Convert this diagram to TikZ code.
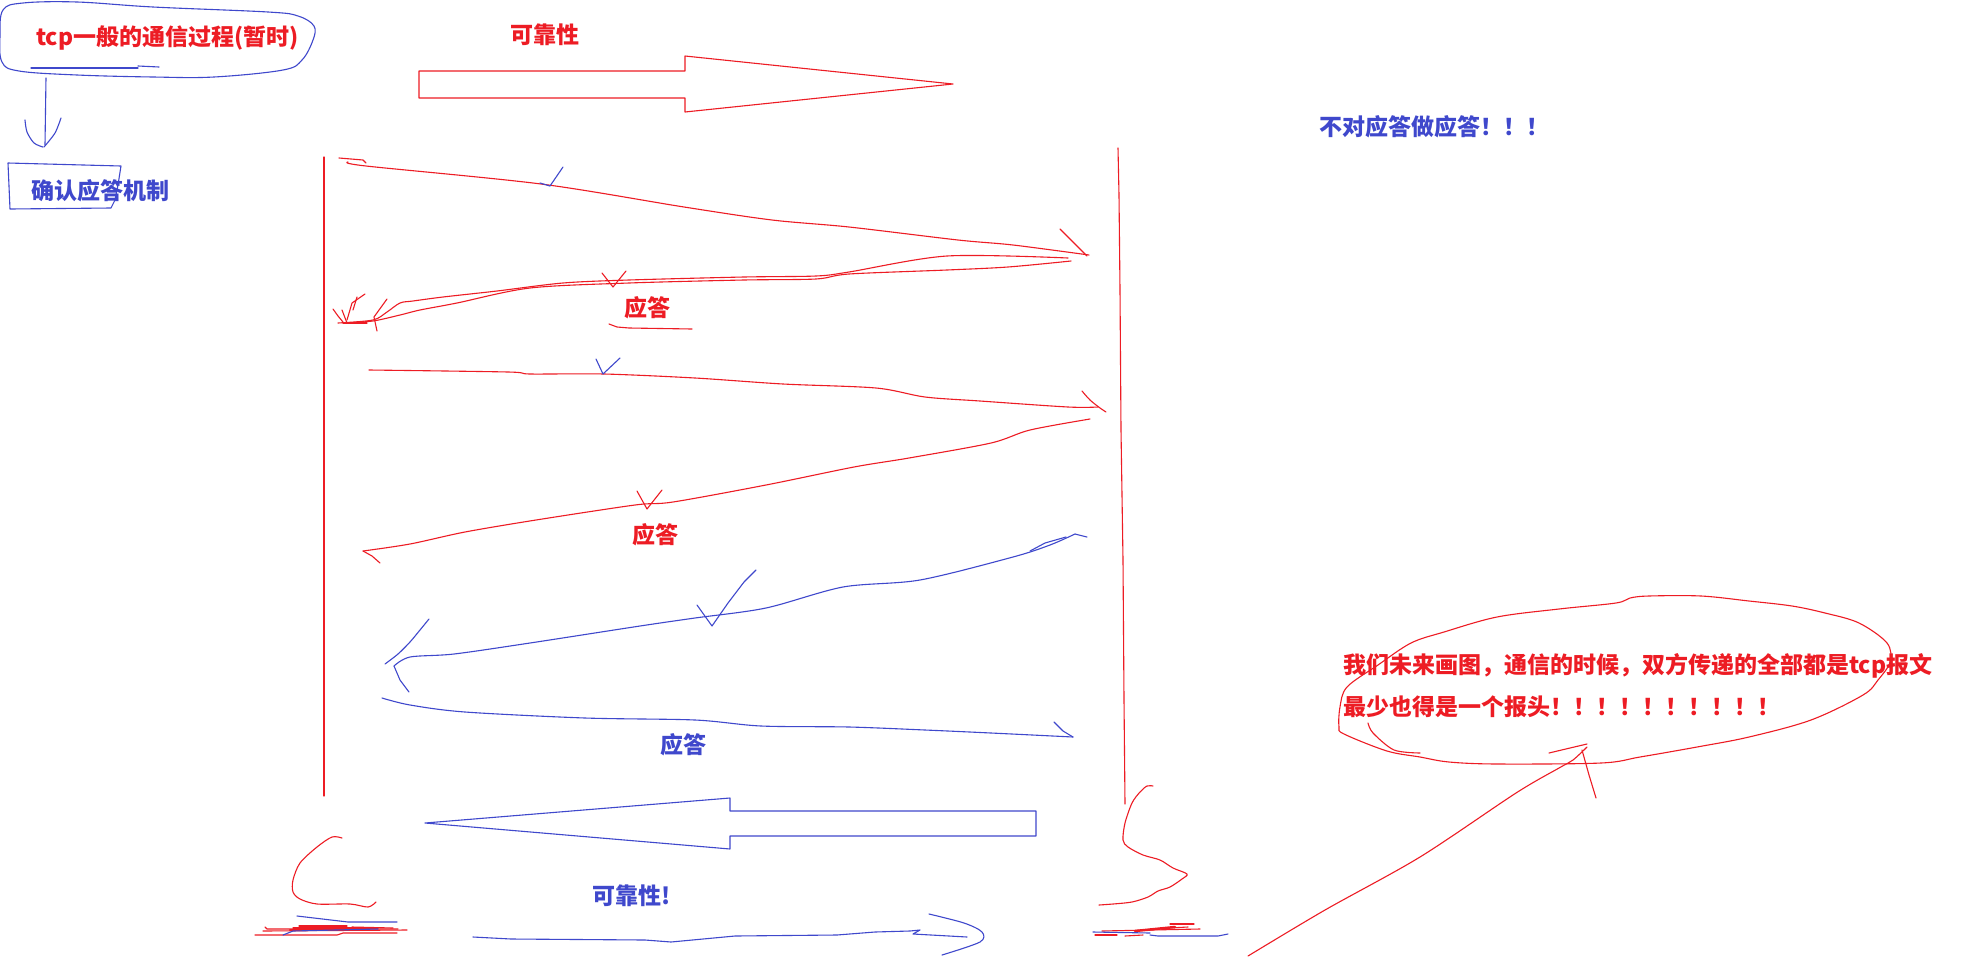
\documentclass[tikz,border=0pt]{standalone}
\usepackage{fontspec}
\newfontfamily\cjk{Noto Sans CJK SC}
\definecolor{pred}{HTML}{ED1C24}
\definecolor{pblue}{HTML}{3F48CC}
\tikzset{
  rs/.style={draw=pred, line width=1.1pt, line cap=round, line join=round},
  bs/.style={draw=pblue, line width=1.1pt, line cap=round, line join=round},
  txt/.style={font=\cjk\bfseries\fontsize{23}{27}\selectfont, inner sep=0pt},
}
\begin{document}
\begin{tikzpicture}[x=1pt,y=-1pt]
\fill[white] (0,0) rectangle (1976,956);
\useasboundingbox (0,0) rectangle (1976,956);

% ---- title ellipse and text
\draw[bs] plot[smooth cycle, tension=0.6] coordinates {(3,10) (23,3) (77,2) (153,7) (268,12) (298,16) (314,26) (313,40) (302,60) (283,70) (214,77) (153,77) (77,75) (19,71) (2,62) (0,36)};
\draw[bs] (31,68) -- (138,68);
\draw[bs] (138,66) -- (159,67);
\node[txt, text=pred, anchor=west] (title) at (36,38) {tcp一般的通信过程(暂时)};

% ---- down arrow to box
\draw[bs] (46,78) -- (45,145);
\draw[bs] plot[smooth] coordinates {(25,120) (27,132) (34,143) (43,147)};
\draw[bs] plot[smooth] coordinates {(44,147) (55,133) (61,118)};

% ---- box and text
\draw[bs] (8,163) -- (121,166) -- (118,185) -- (115,200) -- (111,208) -- (10,209) -- cycle;
\node[txt, text=pblue, anchor=west] (ack) at (31,191) {确认应答机制};

% ---- top reliability label and outline arrow
\node[txt, text=pred] (rel1) at (545,35) {可靠性};
\draw[rs] (419,71) -- (685,71) -- (685,56) -- (953,84) -- (685,112) -- (685,98) -- (419,98) -- cycle;

\node[txt, text=pblue, anchor=west] (noack) at (1319,127) {不对应答做应答！！！};

% ---- vertical lines
\draw[rs] (324,157) -- (324,796);
\draw[rs] (1118,148) -- (1119,195) -- (1120,290) -- (1121,430) -- (1123,560) -- (1124,700) -- (1125,804);

% ---- arrow 1 (red, right)
\draw[rs] (339,158) -- (363,160) -- (366,163);
\draw[rs] plot[smooth] coordinates {(348,162) (366,166) (541,184) (684,207) (772,220) (849,227) (958,240) (1013,245) (1089,255)};
\draw[rs] plot[smooth] coordinates {(1060,229) (1072,241) (1081,250) (1087,256)};
\draw[bs] (540,183) -- (550,186) -- (563,167);

% ---- return 1 (red, left, double)
\draw[rs] plot[smooth] coordinates {(1068,258) (947,256) (849,272) (816,276) (744,277) (629,280) (563,283) (497,291) (443,297) (413,301) (400,303) (387,312) (373,320) (338,323)};
\draw[rs] plot[smooth] coordinates {(1071,261) (1008,267) (947,270) (849,274) (816,279) (744,280) (629,283) (530,288) (457,303) (420,310) (400,315) (373,321) (345,323)};
\draw[rs] (333,309) -- (338,316) -- (343,322);
\draw[rs] (342,310) -- (347,323);
\draw[rs] (365,294) -- (352,303) -- (347,320);
\draw[rs] (357,297) -- (353,310);
\draw[rs] (387,299) -- (374,317) -- (377,331);
\draw[rs] (343,323) -- (367,323);
\draw[rs] (602,273) -- (613,287) -- (626,271);
\node[txt, text=pred] (ans1) at (647,308) {应答};
\draw[rs] (609,324) -- (617,327) -- (629,328) -- (692,329);

% ---- arrow 2 (red, right)
\draw[rs] plot[smooth] coordinates {(369,370) (508,372) (530,374) (604,374) (695,378) (783,384) (876,388) (925,397) (980,401) (1068,407) (1098,407)};
\draw[rs] plot[smooth] coordinates {(1082,391) (1090,400) (1100,408) (1106,412)};
\draw[bs] (596,359) -- (603,374) -- (620,358);

% ---- return 2 (red, left)
\draw[rs] plot[smooth] coordinates {(1090,419) (1030,430) (991,443) (909,458) (854,467) (766,485) (673,502) (635,505) (536,520) (465,532) (410,544) (363,551)};
\draw[rs] (363,551) -- (372,556) -- (380,563);
\draw[rs] (637,491) -- (647,509) -- (662,490);
\node[txt, text=pred] (ans2) at (655,535) {应答};

% ---- return 3 (blue, left)
\draw[bs] (1087,537) -- (1075,534);
\draw[bs] (1030,551) -- (1045,543) -- (1066,537);
\draw[bs] plot[smooth] coordinates {(1075,534) (1050,545) (1013,557) (920,580) (843,587) (766,608) (695,618) (640,626) (530,643) (454,654) (410,657) (394,666)};
\draw[bs] plot[smooth] coordinates {(429,619) (420,630) (410,642) (398,654) (385,664)};
\draw[bs] (394,666) -- (400,680) -- (409,692);
\draw[bs] (697,605) -- (712,626) -- (728,603) -- (744,582) -- (756,570);

% ---- arrow 4 (blue, right)
\draw[bs] plot[smooth] coordinates {(382,698) (410,705) (465,712) (585,718) (695,720) (761,726) (849,727) (925,730) (991,733) (1073,737)};
\draw[bs] (1054,722) -- (1063,731) -- (1073,737);
\node[txt, text=pblue] (ans3) at (683,745) {应答};

% ---- bottom blue outline arrow
\draw[bs] (1036,811) -- (730,811) -- (730,798) -- (425,823) -- (730,849) -- (730,836) -- (1036,836) -- cycle;
\node[txt, text=pblue, anchor=west] (rel2) at (592,896) {可靠性!};

% ---- bottom left scribbles
\draw[rs] plot[smooth] coordinates {(342,838) (332,837) (317,847) (300,863) (293,880) (293,892) (300,899) (317,904) (350,904) (368,907) (376,902)};
\draw[bs] (297,916) -- (348,922) -- (397,922);
\draw[rs] (255,935) -- (337,935) -- (343,933) -- (397,933);
\draw[rs] (263,931) -- (407,930);
\draw[rs] (265,927) -- (267,929) -- (398,929);
\draw[rs] (293,928) -- (378,928);
\draw[rs] (299,926) -- (347,926);
\draw[rs] (352,927) -- (393,928);
\draw[rs, line width=2.2pt] (290,930) -- (350,930);
\draw[bs] (283,935) -- (293,931) -- (378,929);

% ---- bottom blue arrow
\draw[bs] (473,937) -- (511,939) -- (645,940) -- (671,942) -- (735,936) -- (837,935) -- (875,932) -- (910,931) -- (920,930) -- (913,934) -- (967,937);
\draw[bs] plot[smooth] coordinates {(929,914) (964,923) (982,932) (980,942) (942,955)};

% ---- right side scribbles
\draw[rs] plot[smooth] coordinates {(1153,786) (1147,786) (1140,792) (1132,803) (1125,823) (1123,840) (1128,847) (1143,855) (1160,860) (1173,868) (1187,874) (1182,879) (1170,887) (1158,891) (1148,897) (1132,902) (1113,904) (1099,905)};
\draw[rs] (1102,931) -- (1200,929);
\draw[rs] (1170,924) -- (1194,924);
\draw[rs] (1150,929) -- (1188,927);
\draw[rs] (1095,935) -- (1117,935);
\draw[rs] (1125,936) -- (1143,935);
\draw[rs, line width=2.5pt] (1135,931) -- (1175,927);
\draw[bs] (1093,932) -- (1150,933);
\draw[bs] (1150,935) -- (1158,936) -- (1218,936) -- (1228,934);

% ---- right ellipse and note
\draw[rs] plot[smooth cycle, tension=0.55] coordinates {(1649,596) (1701,596) (1749,601) (1792,606) (1825,613) (1859,623) (1887,643) (1890,662) (1878,680) (1863,695) (1811,720) (1749,737) (1697,747) (1640,757) (1601,763) (1497,764) (1449,762) (1420,757) (1387,751) (1344,734) (1339,727) (1340,707) (1347,687) (1378,665) (1411,643) (1444,632) (1497,617) (1559,609) (1616,603) (1630,598)};
\draw[rs] plot[smooth] coordinates {(1368,723) (1373,733) (1394,750) (1420,753)};
\node[txt, text=pred, anchor=west] (note1) at (1343,666) {我们未来画图，通信的时候，双方传递的全部都是tcp报文};
\node[txt, text=pred, anchor=west] (note2) at (1343,707) {最少也得是一个报头！！！！！！！！！！};

\draw[rs] plot[smooth] coordinates {(1248,956) (1325,910) (1420,857) (1516,793) (1559,768) (1573,760) (1587,747)};
\draw[rs] (1549,753) -- (1570,748) -- (1587,744);
\draw[rs] (1582,750) -- (1589,775) -- (1596,798);
\end{tikzpicture}
\end{document}
